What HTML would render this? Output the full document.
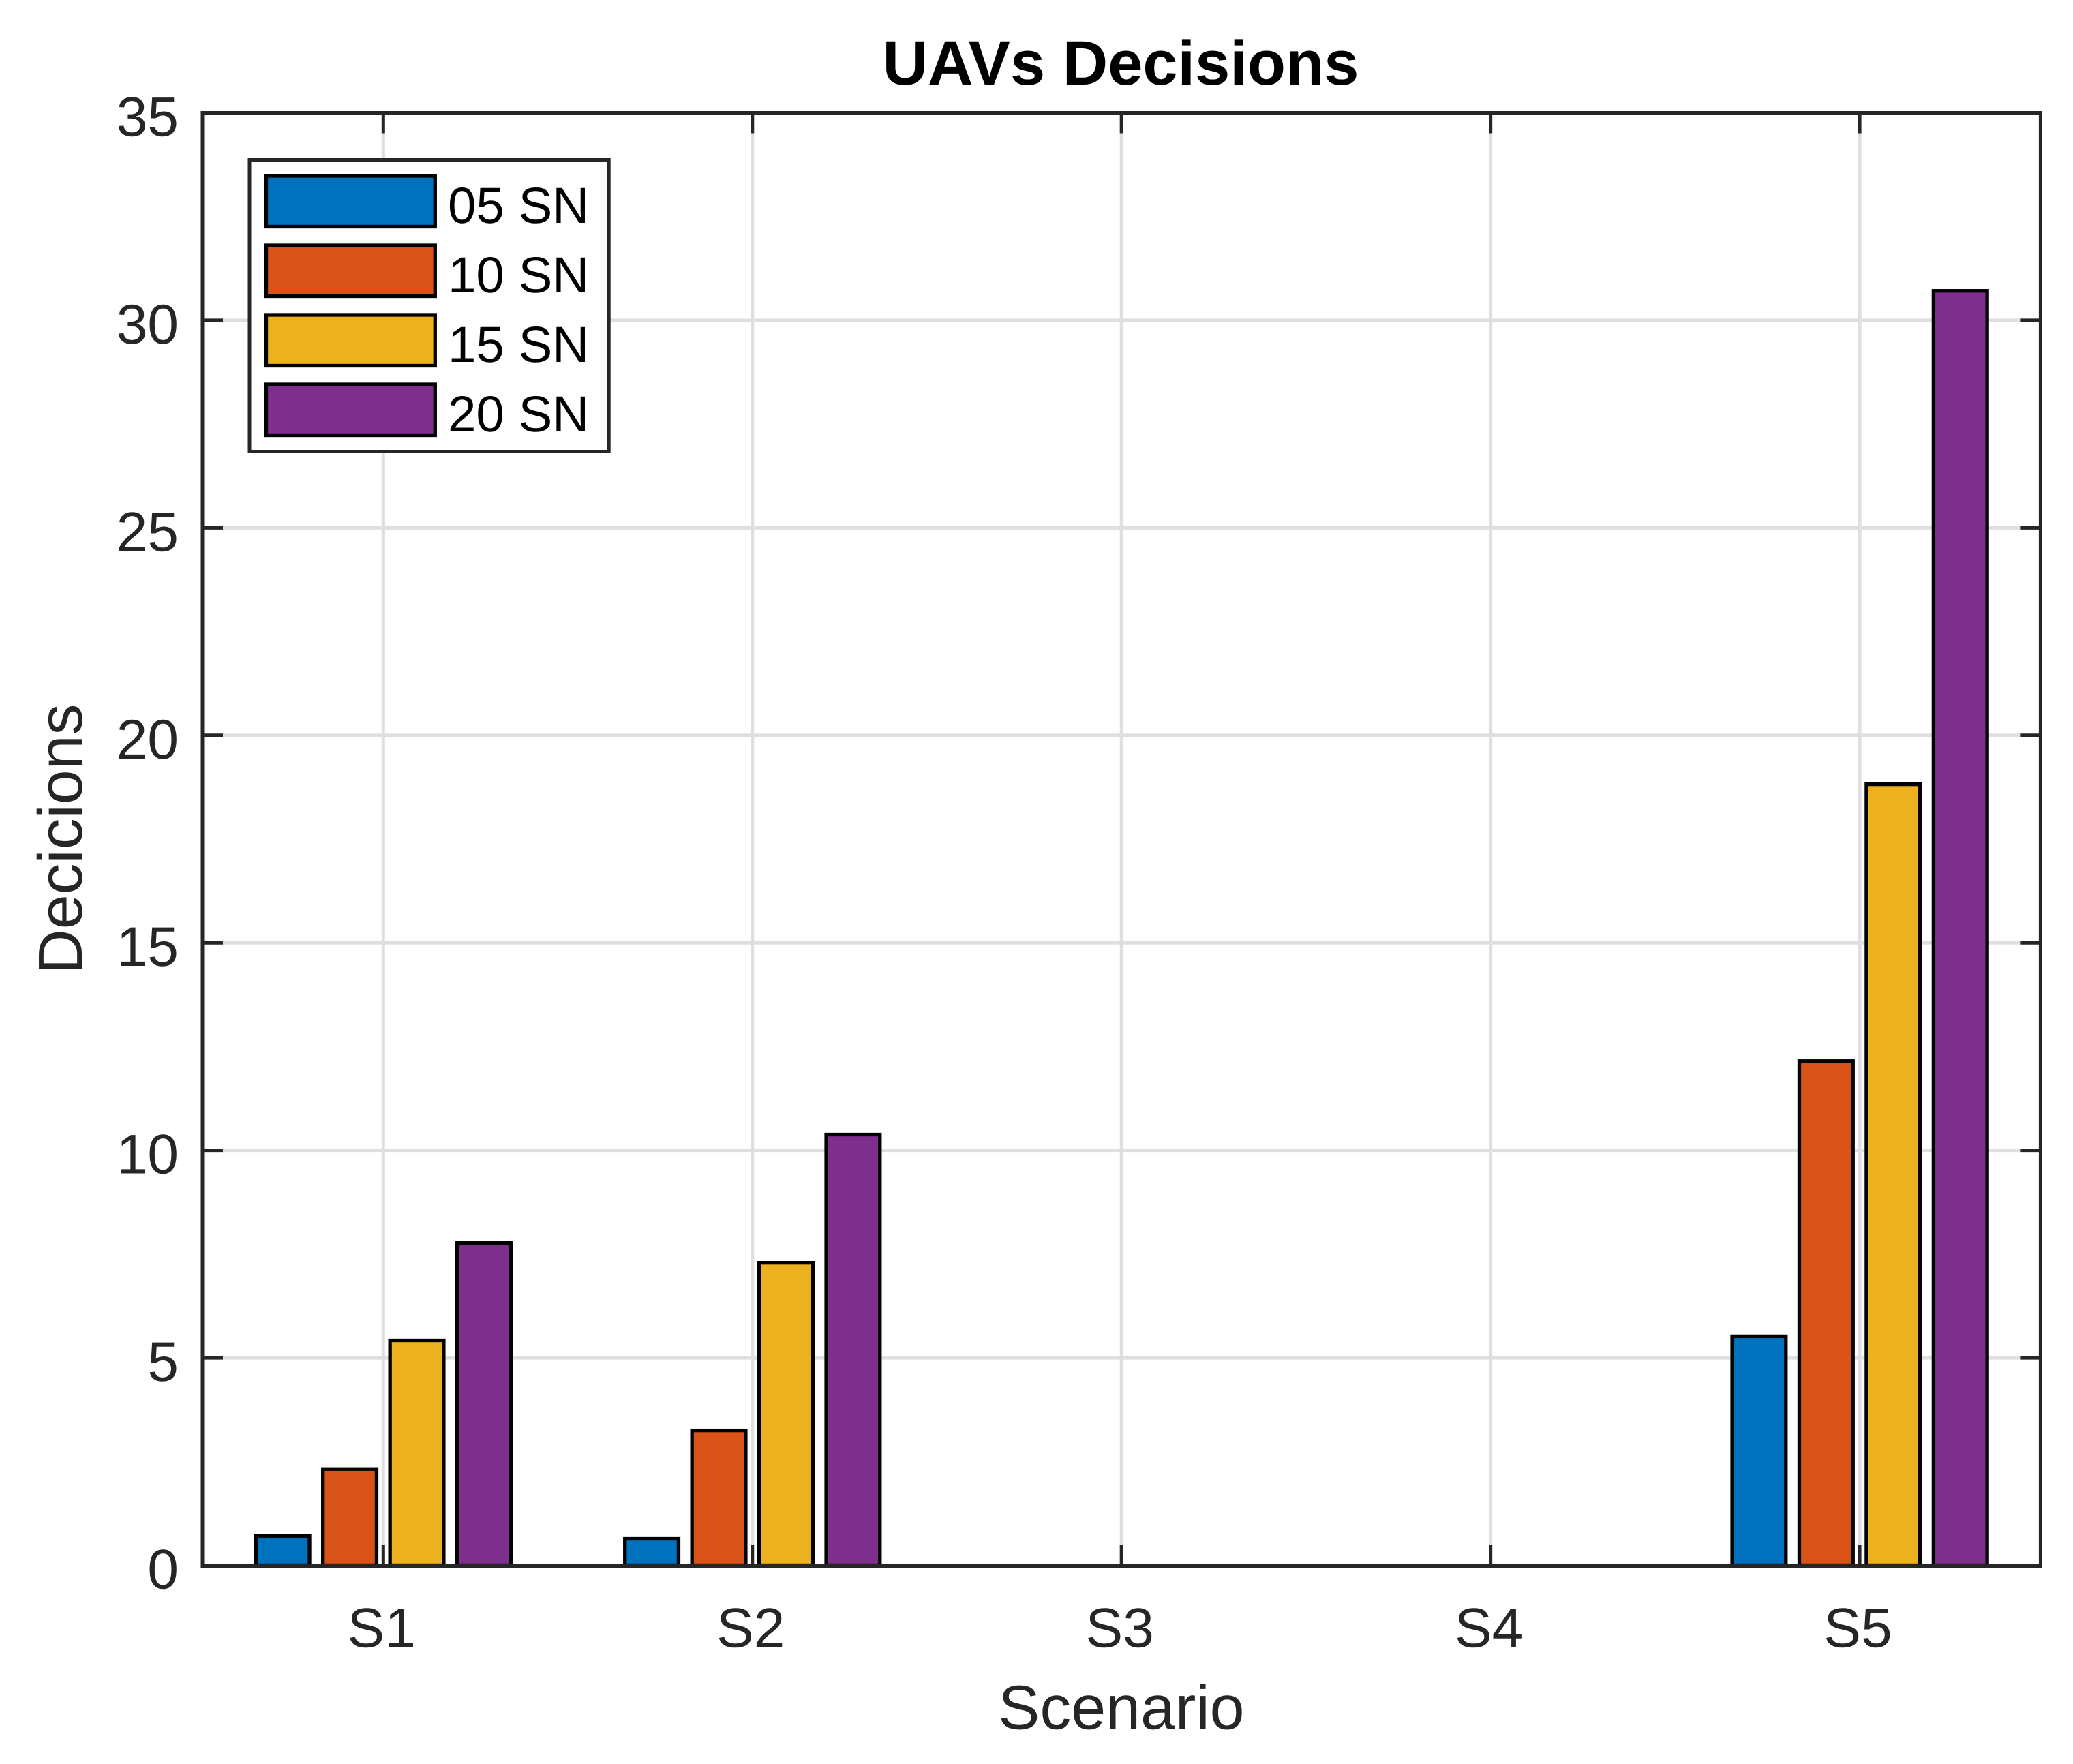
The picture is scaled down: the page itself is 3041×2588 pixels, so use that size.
<!DOCTYPE html>
<html lang="en">
<head>
<meta charset="utf-8">
<title>UAVs Decisions</title>
<style>
html,body{margin:0;padding:0;background:#fff;}
svg{display:block;}
text{font-family:"Liberation Sans",Arial,sans-serif;text-rendering:geometricPrecision;}
</style>
</head>
<body>
<svg id="chart" xmlns="http://www.w3.org/2000/svg" width="3041" height="2588" viewBox="0 0 3041 2588">
  <rect x="0" y="0" width="3041" height="2588" fill="#ffffff"/>
  <g id="grid"></g>
  <g id="bars"></g>
  <g id="axes"></g>
  <text x="1644" y="124" font-size="92" font-weight="bold" text-anchor="middle" fill="#000000">UAVs Decisions</text>
  <text x="1645" y="2536.5" font-size="91.5" text-anchor="middle" fill="#262626">Scenario</text>
  <text transform="translate(120,1231) rotate(-90)" x="0" y="0" font-size="91.5" text-anchor="middle" fill="#262626">Decicions</text>
  <g id="legend"></g>
</svg>
<script>
const categories = ['S1', 'S2', 'S3', 'S4', 'S5'];
const seriesNames = ['05 SN', '10 SN', '15 SN', '20 SN'];
const sn05 = [0.71, 0.64, 0, 0, 5.52];
const sn10 = [2.32, 3.25, 0, 0, 12.15];
const sn15 = [5.42, 7.29, 0, 0, 18.82];
const sn20 = [7.77, 10.38, 0, 0, 30.71];
const seriesColors = ['#0072BD', '#D95319', '#EDB120', '#7E2F8E'];
const yTicks = [0, 5, 10, 15, 20, 25, 30, 35];

const allSeries = [sn05, sn10, sn15, sn20];
const NS = 'http://www.w3.org/2000/svg';
const plotLeft = 297, plotRight = 2993.4, plotTop = 165.5, plotBottom = 2296.5;
const xMin = 0.51, xMax = 5.49, yMin = 0, yMax = 35;
const axisColor = '#262626', gridColor = '#dfdfdf';
const tickLen = 30;

function xScale(v) { return plotLeft + (v - xMin) / (xMax - xMin) * (plotRight - plotLeft); }
function yScale(v) { return plotBottom - (v - yMin) / (yMax - yMin) * (plotBottom - plotTop); }
function make(tag, parent, attrs) {
  const el = document.createElementNS(NS, tag);
  for (const k in attrs) el.setAttribute(k, attrs[k]);
  parent.appendChild(el);
  return el;
}

const gridG = document.getElementById('grid');
const barsG = document.getElementById('bars');
const axesG = document.getElementById('axes');
const legendG = document.getElementById('legend');
const gridStyle = { stroke: gridColor, 'stroke-width': 5 };
const axisStyle = { stroke: axisColor, 'stroke-width': 5 };

yTicks.forEach(function (t) {
  if (t === yMin || t === yMax) return;
  const line = make('line', gridG, Object.assign({ x1: plotLeft, x2: plotRight, y1: yScale(t), y2: yScale(t) }, gridStyle));
  
  
});
categories.forEach(function (c, i) {
  const line = make('line', gridG, Object.assign({ x1: xScale(i + 1), x2: xScale(i + 1), y1: plotTop, y2: plotBottom }, gridStyle));
  
  
});

const groupWidth = 4 / 5.5;
const pitch = groupWidth / allSeries.length;
const barWidth = pitch * 0.8;
allSeries.forEach(function (values, s) {
  values.forEach(function (v, i) {
    const center = (i + 1) + (s - (allSeries.length - 1) / 2) * pitch;
    const x0 = xScale(center - barWidth / 2), x1 = xScale(center + barWidth / 2);
    const y0 = yScale(v), y1 = yScale(0);
    const bar = make('rect', barsG, { x: x0, y: y0, width: x1 - x0, height: y1 - y0, fill: seriesColors[s], stroke: '#000000', 'stroke-width': 5.3 });
    
    
  });
});

const frame = make('rect', axesG, Object.assign({ x: plotLeft, y: plotTop, width: plotRight - plotLeft, height: plotBottom - plotTop, fill: 'none' }, axisStyle));


const baseline = make('line', axesG, { x1: plotLeft - 2.5, x2: plotRight + 2.5, y1: 2297, y2: 2297, stroke: axisColor, 'stroke-width': 6 });



categories.forEach(function (c, i) {
  const x = xScale(i + 1);
  const bottomTick = make('line', axesG, Object.assign({ x1: x, x2: x, y1: plotBottom, y2: plotBottom - tickLen }, axisStyle));
  
  
  const topTick = make('line', axesG, Object.assign({ x1: x, x2: x, y1: plotTop, y2: plotTop + tickLen }, axisStyle));
  
  
  const label = make('text', axesG, { x: x - 2.5, y: 2416.5, 'font-size': 82, 'text-anchor': 'middle', fill: axisColor });
  label.textContent = c;
  
  
});

yTicks.forEach(function (t) {
  const y = yScale(t);
  const leftTick = make('line', axesG, Object.assign({ x1: plotLeft, x2: plotLeft + tickLen, y1: y, y2: y }, axisStyle));
  
  
  const rightTick = make('line', axesG, Object.assign({ x1: plotRight, x2: plotRight - tickLen, y1: y, y2: y }, axisStyle));
  
  
  const label = make('text', axesG, { x: 262, y: y + 34, 'font-size': 82, 'text-anchor': 'end', fill: axisColor });
  label.textContent = String(t);
  
  
});

const legendBox = make('rect', legendG, { x: 366, y: 234.5, width: 527.2, height: 428, fill: '#ffffff', stroke: axisColor, 'stroke-width': 5 });


seriesNames.forEach(function (name, s) {
  const rowY = 258 + s * 102;
  const swatch = make('rect', legendG, { x: 390.5, y: rowY, width: 247.8, height: 74.5, fill: seriesColors[s], stroke: '#000000', 'stroke-width': 5.3 });
  
  
  const label = make('text', legendG, { x: 657, y: rowY + 69, 'font-size': 74.5, fill: '#000000' });
  label.textContent = name;
  
  
});
</script>
</body>
</html>
